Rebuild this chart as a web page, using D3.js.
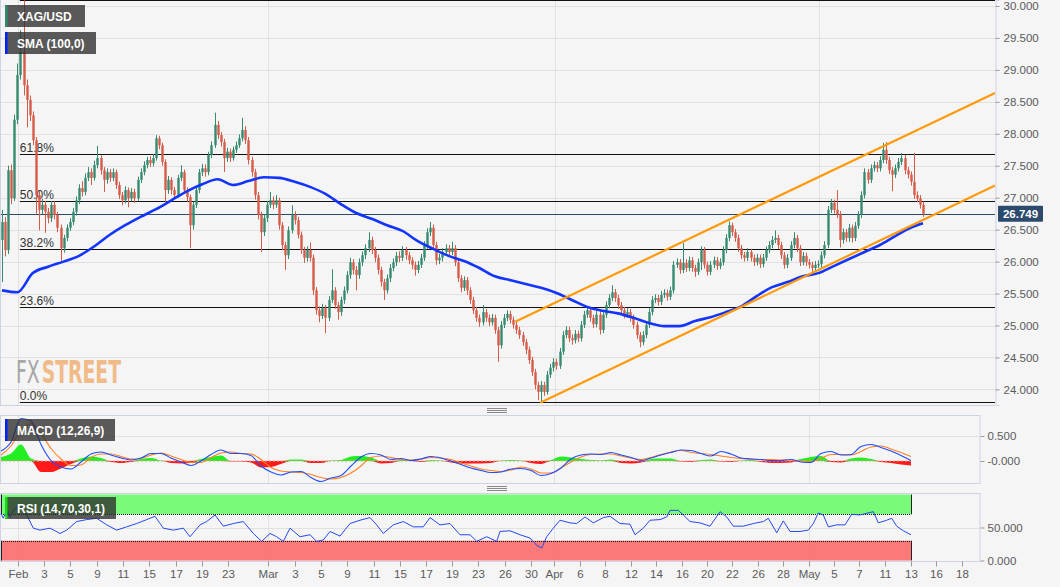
<!DOCTYPE html>
<html><head><meta charset="utf-8">
<script src="https://cdn.jsdelivr.net/npm/d3@7"></script>
<style>
html,body{margin:0;padding:0;background:#f5f5f5;}
svg{display:block;font-family:"Liberation Sans",Arial,sans-serif;}
</style></head><body>
<svg id="c" width="1060" height="587"></svg>
<script>
// ---------------- DATA ----------------
const firstOpen = 26.34;
const closes = [
26.62,26.18,27.43,26.99,28.22,28.92,29.28,28.76,28.53,28.29,
27.90,27.04,26.81,26.89,26.78,26.68,26.89,26.73,26.53,26.21,
26.37,26.53,26.62,26.78,26.96,27.15,27.09,27.31,27.40,27.31,
27.51,27.62,27.43,27.28,27.40,27.31,27.40,27.20,27.04,26.96,
27.12,26.99,27.09,26.99,27.28,27.40,27.51,27.59,27.54,27.62,
27.93,27.82,27.56,27.12,27.28,27.12,27.04,27.31,27.40,27.12,
27.01,26.57,26.89,27.12,27.40,27.46,27.40,27.67,27.82,28.14,
27.98,27.87,27.62,27.72,27.62,27.75,27.82,27.93,28.06,27.90,
27.59,27.40,27.04,26.73,26.46,26.68,26.89,26.96,26.89,26.96,
26.57,26.26,26.10,26.49,26.73,26.65,26.42,26.18,26.06,26.18,
26.06,25.55,25.24,25.15,25.27,25.12,25.40,25.55,25.32,25.21,
25.40,25.55,25.79,25.99,25.87,25.79,25.99,26.10,26.21,26.34,
26.18,26.06,25.87,25.68,25.55,25.74,25.90,25.99,26.09,26.06,
26.18,26.10,26.02,25.95,25.87,25.95,26.06,26.26,26.46,26.53,
26.26,26.02,26.06,26.15,26.21,26.15,26.21,25.99,25.74,25.59,
25.71,25.55,25.40,25.24,25.12,25.05,25.21,25.12,25.05,25.12,
24.93,24.69,25.01,25.12,25.18,25.09,25.01,24.93,24.85,24.74,
24.62,24.46,24.27,24.07,23.96,24.07,23.96,24.23,24.34,24.43,
24.37,24.59,24.85,24.93,24.80,24.77,24.87,24.80,25.01,25.17,
25.24,25.12,25.02,25.17,24.93,25.17,25.32,25.43,25.52,25.43,
25.32,25.24,25.17,25.21,25.12,25.01,24.85,24.74,24.85,25.01,
25.21,25.40,25.43,25.37,25.48,25.51,25.45,25.55,25.95,25.99,
25.87,25.98,25.90,26.02,25.90,25.84,25.99,26.18,25.95,25.84,
25.95,26.02,25.93,25.99,26.18,26.37,26.57,26.46,26.37,26.21,
26.10,26.06,26.15,26.06,25.99,26.06,25.96,26.06,26.18,26.26,
26.34,26.37,26.26,26.10,25.95,26.06,26.26,26.37,26.21,25.99,
26.09,25.99,25.95,25.90,25.95,25.96,26.10,26.26,26.81,26.92,
26.81,26.74,26.34,26.46,26.37,26.53,26.37,26.56,26.73,27.04,
27.40,27.28,27.46,27.51,27.46,27.59,27.75,27.59,27.43,27.36,
27.46,27.56,27.62,27.43,27.36,27.25,27.04,26.99,26.89,26.749];
const highs = [
26.81,26.70,27.50,27.52,28.30,29.10,29.62,30.09,28.85,28.60,
28.35,27.95,27.10,26.98,26.95,26.84,26.95,26.94,26.78,26.58,
26.42,26.58,26.68,26.84,27.02,27.21,27.26,27.38,27.48,27.46,
27.58,27.81,27.66,27.48,27.46,27.45,27.46,27.44,27.25,27.09,
27.18,27.16,27.15,27.14,27.33,27.46,27.57,27.64,27.65,27.68,
27.98,27.97,27.86,27.60,27.34,27.32,27.17,27.36,27.51,27.44,
27.16,27.05,26.94,27.18,27.45,27.53,27.52,27.72,27.88,28.33,
28.20,28.03,27.92,27.78,27.77,27.80,27.88,27.99,28.25,28.12,
27.95,27.64,27.45,27.09,26.78,26.74,26.95,27.09,27.02,27.04,
27.00,26.62,26.31,26.55,26.88,26.79,26.70,26.47,26.23,26.24,
26.30,26.11,25.60,25.30,25.34,25.32,25.46,25.88,25.60,25.37,
25.45,25.61,25.85,26.06,26.04,25.93,26.05,26.16,26.27,26.46,
26.39,26.23,26.11,25.92,25.73,25.80,25.96,26.05,26.15,26.16,
26.24,26.23,26.15,26.07,26.00,26.01,26.12,26.32,26.52,26.62,
26.58,26.31,26.12,26.21,26.27,26.26,26.31,26.26,26.04,25.79,
25.77,25.76,25.60,25.45,25.29,25.17,25.32,25.26,25.17,25.18,
25.17,24.98,25.07,25.18,25.24,25.23,25.14,25.06,24.98,24.90,
24.79,24.67,24.51,24.32,24.12,24.13,24.12,24.29,24.40,24.49,
24.48,24.65,24.91,24.99,24.98,24.86,24.93,24.92,25.07,25.23,
25.30,25.29,25.17,25.23,25.22,25.23,25.38,25.49,25.63,25.57,
25.48,25.37,25.29,25.27,25.26,25.17,25.06,24.90,24.91,25.07,
25.27,25.46,25.49,25.48,25.54,25.57,25.56,25.61,26.01,26.05,
26.04,26.29,26.04,26.08,26.07,25.95,26.05,26.24,26.23,26.00,
26.01,26.08,26.07,26.05,26.24,26.43,26.63,26.61,26.51,26.42,
26.26,26.15,26.21,26.20,26.11,26.12,26.11,26.12,26.24,26.32,
26.40,26.49,26.42,26.31,26.15,26.12,26.32,26.46,26.42,26.26,
26.15,26.14,26.04,26.00,26.01,26.02,26.16,26.32,26.87,26.98,
26.97,27.12,26.79,26.52,26.51,26.59,26.58,26.62,26.79,27.10,
27.46,27.45,27.52,27.57,27.56,27.65,27.86,27.87,27.64,27.48,
27.52,27.62,27.70,27.67,27.48,27.41,27.70,27.10,27.04,26.94];
const lows = [
25.68,26.08,26.12,26.90,26.95,28.15,28.85,28.60,28.10,28.20,
27.82,26.75,26.49,26.74,26.45,26.60,26.62,26.66,26.46,26.00,
26.14,26.32,26.48,26.57,26.72,26.90,27.02,27.04,27.26,27.20,
27.27,27.46,27.36,27.09,27.22,27.25,27.26,27.14,26.98,26.88,
26.91,26.85,26.94,26.92,26.95,27.23,27.35,27.46,27.48,27.49,
27.58,27.76,27.50,26.93,27.06,27.05,26.98,27.00,27.26,27.06,
26.94,26.21,26.50,26.84,27.07,27.34,27.33,27.35,27.62,27.78,
27.92,27.80,27.40,27.56,27.56,27.58,27.70,27.78,27.88,27.84,
27.52,27.33,26.97,26.66,26.15,26.40,26.62,26.84,26.82,26.84,
26.50,26.18,25.87,26.04,26.44,26.58,26.36,26.12,25.98,26.00,
26.00,25.48,25.17,25.05,25.10,24.88,25.07,25.35,25.26,25.09,
25.15,25.34,25.50,25.73,25.80,25.55,25.73,25.93,26.04,26.15,
26.12,25.99,25.80,25.61,25.40,25.50,25.68,25.85,25.93,25.99,
26.01,26.03,25.96,25.88,25.78,25.82,25.90,26.01,26.20,26.40,
26.20,25.95,25.96,26.00,26.10,26.09,26.10,25.93,25.68,25.52,
25.54,25.48,25.34,25.18,25.06,24.98,25.00,25.06,24.99,25.00,
24.87,24.43,24.64,24.96,25.07,25.03,24.95,24.87,24.79,24.68,
24.55,24.40,24.21,24.00,23.83,23.80,23.90,23.92,24.18,24.28,
24.31,24.32,24.54,24.80,24.74,24.70,24.72,24.74,24.75,24.96,
25.12,25.06,24.96,24.97,24.86,24.88,25.12,25.27,25.38,25.37,
25.26,25.18,25.11,25.12,25.06,24.95,24.79,24.66,24.69,24.80,
24.96,25.16,25.35,25.31,25.32,25.43,25.39,25.40,25.50,25.90,
25.81,25.82,25.84,25.85,25.84,25.76,25.79,25.87,25.89,25.78,
25.79,25.90,25.87,25.88,25.94,26.13,26.32,26.40,26.31,26.15,
26.04,26.00,26.01,26.00,25.93,25.94,25.90,25.91,26.01,26.13,
26.21,26.29,26.20,26.04,25.89,25.90,26.01,26.21,26.15,25.93,
25.94,25.93,25.89,25.84,25.85,25.90,25.91,26.05,26.21,26.76,
26.75,26.68,26.22,26.28,26.31,26.31,26.30,26.32,26.51,26.68,
26.99,27.22,27.23,27.41,27.40,27.41,27.54,27.53,27.37,27.10,
27.31,27.41,27.51,27.37,27.30,27.19,26.98,26.93,26.83,26.70];

// SMA(100): [candle index, value]
const sma = [[0,25.55],[5,25.52],[10,25.82],[15,25.92],[20,26.00],[25,26.09],[30,26.24],[35,26.42],
[40,26.57],[45,26.70],[50,26.82],[55,26.96],[60,27.10],[65,27.21],[70,27.29],[75,27.20],[80,27.26],
[85,27.32],[90,27.31],[95,27.25],[100,27.17],[105,27.06],[110,26.90],[115,26.76],[120,26.67],
[125,26.57],[130,26.48],[135,26.32],[140,26.20],[145,26.09],[150,26.01],[155,25.90],[160,25.77],
[165,25.71],[170,25.65],[175,25.59],[180,25.51],[185,25.40],[190,25.29],[195,25.23],[200,25.19],
[205,25.12],[210,25.04],[215,24.99],[220,24.99],[225,25.07],[230,25.13],[235,25.21],[240,25.30],
[245,25.46],[250,25.60],[255,25.68],[260,25.77],[265,25.82],[270,25.93],[275,26.04],[280,26.15],
[285,26.26],[290,26.40],[295,26.53],[299,26.60]];

const channelUpper = [[166.6,25.06],[322.4,28.64]];
const channelLower = [[174.7,23.79],[322.4,27.19]];

const fibLow = 23.80, fibHigh = 30.09;
const fibLevels = [0, 23.6, 38.2, 50, 61.8, 100];
const fibLabelLevels = [0, 23.6, 38.2, 50, 61.8];
const fibStartIdx = 5.8;
const lastPrice = 26.749;
const priceTicks = [24,24.5,25,25.5,26,26.5,27,27.5,28,28.5,29,29.5,30];
const mainMonthIdx = [5.3, 86.4, 179.5, 265.3];

// Indicators (one value every indicator step)
const macdLine = [0.20,0.38,0.85,0.80,0.33,0.01,-0.12,-0.16,-0.02,0.14,
0.18,0.12,0.06,0.02,0.06,0.15,0.15,0.06,-0.02,-0.09,
0.00,0.13,0.22,0.15,0.15,0.11,-0.10,-0.22,-0.28,-0.22,
-0.21,-0.33,-0.41,-0.34,-0.29,-0.10,0.08,0.15,0.12,0.03,
0.05,0.01,0.04,0.09,0.06,0.00,-0.07,-0.14,-0.19,-0.23,
-0.22,-0.16,-0.15,-0.19,-0.29,-0.25,-0.14,0.04,0.12,0.14,
0.13,0.17,0.12,0.07,0.01,0.06,0.12,0.17,0.22,0.21,
0.15,0.10,0.19,0.14,0.06,0.04,0.03,0.01,0.01,0.03,
-0.02,-0.03,0.15,0.19,0.12,0.13,0.29,0.33,0.27,0.20,
0.11,0.01];
const signalLine = [0.12,0.30,0.62,0.75,0.55,0.25,0.04,-0.09,-0.08,0.07,
0.14,0.14,0.09,0.04,0.05,0.12,0.16,0.10,0.03,-0.03,
-0.03,0.07,0.16,0.18,0.15,0.14,0.03,-0.13,-0.20,-0.22,
-0.23,-0.27,-0.33,-0.36,-0.33,-0.24,-0.10,0.07,0.10,0.07,
0.03,0.02,0.04,0.07,0.06,0.03,-0.04,-0.10,-0.16,-0.19,
-0.21,-0.18,-0.12,-0.16,-0.24,-0.24,-0.14,-0.02,0.08,0.13,
0.14,0.14,0.10,0.06,0.03,0.07,0.13,0.18,0.21,0.17,
0.15,0.13,0.10,0.07,0.05,0.04,0.03,0.03,0.02,0.02,
0.00,-0.01,0.05,0.13,0.13,0.12,0.19,0.28,0.30,0.24,
0.17,0.09];
const histogram = [0.08,0.15,0.33,0.05,-0.22,-0.22,-0.15,-0.06,0.05,0.09,
0.06,-0.02,-0.04,-0.02,0.04,0.06,0.01,-0.04,-0.05,-0.04,
0.04,0.08,0.11,-0.01,-0.01,-0.03,-0.13,-0.12,-0.06,0.03,
0.03,-0.04,-0.04,0.01,0.02,0.09,0.10,0.07,-0.05,-0.04,
0.02,0.02,-0.02,0.02,0.01,-0.03,-0.05,-0.05,-0.05,-0.04,
0.01,0.02,0.01,-0.04,-0.06,0.02,0.09,0.07,0.04,0.02,
0.01,0.03,-0.04,-0.05,-0.03,0.04,0.05,0.05,-0.01,-0.02,
0.02,0.03,-0.01,-0.02,0.01,0.02,-0.02,-0.04,-0.04,-0.03,
0.04,0.08,0.10,-0.02,-0.03,0.05,0.07,0.04,-0.02,-0.04,
-0.07,-0.09];
// RSI: [indicator index, value]
const rsi = [[0,71],[0.23,64],[0.57,76],[0.9,66],[1.4,79],[1.9,82],[2.57,69],[3.23,49],[3.9,46],[4.9,49],
[5.9,41],[6.57,46],[7.57,59],[8.57,62],[9.57,64],[10.57,54],[11.57,46],[12.57,51],[13.57,56],[14.57,62],
[15.4,67],[16.23,49],[17.23,46],[18.23,49],[18.9,36],[19.9,54],[20.57,59],[21.4,69],[22.23,52],[23.23,56],
[24.23,59],[25.23,41],[26.07,29],[26.9,41],[27.57,36],[28.23,29],[28.9,49],[29.9,36],[30.9,39],[31.57,29],
[32.23,31],[32.9,44],[33.9,37],[34.9,56],[35.9,61],[36.9,65],[37.57,54],[38.23,41],[39.23,54],[40.23,59],
[41.23,51],[42.23,51],[42.9,65],[43.9,54],[44.9,56],[45.9,39],[46.9,39],[47.57,29],[48.57,36],[49.57,29],
[49.9,44],[50.9,45],[51.9,39],[52.9,34],[53.57,23],[54.07,19],[54.57,36],[55.23,49],[55.9,61],[56.9,57],
[57.57,56],[58.4,66],[59.23,57],[60.23,65],[60.9,67],[61.9,56],[62.9,55],[63.4,39],[64.23,49],[64.9,61],
[65.9,62],[66.57,66],[66.9,76],[67.73,76],[68.23,69],[68.9,59],[69.9,57],[70.9,52],[71.9,74],[72.57,66],
[73.23,52],[74.23,52],[75.23,56],[76.23,59],[76.73,64],[77.57,42],[78.23,60],[78.9,44],[79.9,44],[80.73,46],
[81.23,56],[81.73,72],[82.23,69],[82.73,51],[83.57,54],[84.4,54],[85.07,70],[85.9,69],[87.23,74],[87.73,57],
[88.57,61],[89.07,64],[89.57,52],[90.23,45],[91,39]];
const macdTicks = [0.5, 0];
const rsiTicks = [50, 0];
const rsiBands = {overbought:70, oversold:30, top:100, bottom:0};
const timeLabels = ["Feb","3","5","9","11","15","17","19","23","Mar","3","5","9","11","15","17","19","23","26","30",
"Apr","6","8","12","14","16","20","22","26","28","May","5","7","11","13","16","18"];
const timePos = [1.7,4.3,6.9,9.6,12.2,14.8,17.5,20.1,22.7,26.7,29.4,32.0,34.6,37.3,39.9,42.5,45.1,47.7,50.4,53.0,
55.3,57.9,60.4,63.0,65.5,68.1,70.6,73.1,75.7,78.2,80.8,83.3,85.8,88.4,91.0,93.5,96.1];
const monthNames = ["Feb","Mar","Apr","May"];

// ---------------- LAYOUT / SCALES ----------------
const svg = d3.select("#c");
const BG = "#f5f5f5", GRID = "#e1e1e1", BORDER = "#cdd3e3", AX = "#5a5a5a";
const main = {x0:0, x1:995, y0:0, y1:405};
const pm = {x0:0, x1:980, y0:415, y1:483};
const pr = {x0:0, x1:980, y0:493, y1:561};

const xMain = d3.scaleLinear().domain([0, closes.length-1]).range([2, 923]);
const yMain = d3.scaleLinear().domain([23.756, 30.094]).range([main.y1, main.y0]);
const xInd = d3.scaleLinear().domain([0, macdLine.length-1]).range([1, 911]);
const yMacd = d3.scaleLinear().domain([-0.44, 0.92]).range([pm.y1, pm.y0]);
const yRsi = d3.scaleLinear().domain([0, 100]).range([560.5, 494.5]);

svg.append("rect").attr("width",1060).attr("height",587).attr("fill",BG);

const defs = svg.append("defs");
defs.append("clipPath").attr("id","cm").append("rect").attr("x",main.x0).attr("y",main.y0).attr("width",main.x1-main.x0).attr("height",main.y1-main.y0);

// ---------------- MAIN PANEL ----------------
const gm = svg.append("g").attr("clip-path","url(#cm)");
gm.selectAll(".hg").data(priceTicks).join("line")
  .attr("x1",main.x0).attr("x2",main.x1)
  .attr("y1",d=>Math.round(yMain(d))+0.5).attr("y2",d=>Math.round(yMain(d))+0.5)
  .attr("stroke",GRID).attr("stroke-width",1);
gm.selectAll(".vg").data(mainMonthIdx).join("line")
  .attr("x1",d=>Math.round(xMain(d))+0.5).attr("x2",d=>Math.round(xMain(d))+0.5)
  .attr("y1",main.y0).attr("y2",main.y1).attr("stroke",GRID);

// fib lines
const fibPrice = f => fibLow + (fibHigh-fibLow)*f/100;
gm.selectAll(".fib").data(fibLevels).join("line")
  .attr("x1",xMain(fibStartIdx)).attr("x2",main.x1)
  .attr("y1",d=>Math.round(yMain(fibPrice(d)))+0.5).attr("y2",d=>Math.round(yMain(fibPrice(d)))+0.5)
  .attr("stroke","#111").attr("stroke-width",1.1);
gm.selectAll(".fibt").data(fibLabelLevels).join("text")
  .attr("x",xMain(fibStartIdx)).attr("y",d=>Math.round(yMain(fibPrice(d)))-2)
  .attr("font-size",12).attr("fill","#333").text(d=>d.toFixed(1)+"%");

// last price line
gm.append("line").attr("x1",main.x0).attr("x2",main.x1)
  .attr("y1",Math.round(yMain(lastPrice))+0.5).attr("y2",Math.round(yMain(lastPrice))+0.5)
  .attr("stroke","#2c4a6e").attr("stroke-width",1);

// candles
const candles = closes.map((c,i)=>({i, o: i===0?firstOpen:closes[i-1], c, h:highs[i], l:lows[i]}));
const UP = "#358a6f", DN = "#d65c49";
const cg = gm.append("g");
cg.selectAll(".wk").data(candles).join("line")
  .attr("x1",d=>Math.round(xMain(d.i))+0.5).attr("x2",d=>Math.round(xMain(d.i))+0.5)
  .attr("y1",d=>yMain(d.h)).attr("y2",d=>yMain(d.l))
  .attr("stroke",d=>d.c>=d.o?UP:DN).attr("stroke-width",1);
cg.selectAll(".bd").data(candles).join("rect")
  .attr("x",d=>Math.round(xMain(d.i))-0.7).attr("width",2.4)
  .attr("y",d=>yMain(Math.max(d.o,d.c)))
  .attr("height",d=>Math.max(1,Math.abs(yMain(d.o)-yMain(d.c))))
  .attr("fill",d=>d.c>=d.o?UP:DN);

// SMA
gm.append("path").datum(sma)
  .attr("d",d3.line().x(d=>xMain(d[0])).y(d=>yMain(d[1])).curve(d3.curveMonotoneX))
  .attr("fill","none").attr("stroke","#1334ff").attr("stroke-width",2.6);

// channel
[channelUpper, channelLower].forEach(ch=>{
  gm.append("path").datum(ch)
    .attr("d",d3.line().x(d=>xMain(d[0])).y(d=>yMain(d[1])))
    .attr("stroke","#ff9a0a").attr("stroke-width",2.2).attr("fill","none");
});

// logo (one text, two coloured parts)
const logo = svg.append("text").attr("x",16).attr("y",382.5).attr("font-size",32)
  .attr("font-family","'DejaVu Sans Condensed','Liberation Sans Narrow','Liberation Sans',sans-serif")
  .attr("textLength",105).attr("lengthAdjust","spacingAndGlyphs").attr("opacity",0.85);
logo.append("tspan").attr("fill","#999").text("FX");
logo.append("tspan").attr("dx",3).attr("fill","#f1b277").attr("font-weight","bold").text("STREET");

// main border
svg.append("line").attr("x1",0.5).attr("x2",0.5).attr("y1",0).attr("y2",main.y1).attr("stroke",BORDER);
svg.append("line").attr("x1",0).attr("x2",main.x1).attr("y1",main.y1+0.5).attr("y2",main.y1+0.5).attr("stroke",BORDER);

// right axis main
const axM = svg.append("g").attr("transform",`translate(${main.x1+0.5},0)`)
  .call(d3.axisRight(yMain).tickValues(priceTicks).tickFormat(d3.format(".3f")).tickSize(4).tickPadding(4));
function styleAxis(g){
  g.select(".domain").attr("stroke",BORDER);
  g.selectAll(".tick line").attr("stroke","#999");
  g.selectAll("text").attr("fill",AX).attr("font-size",11.5).attr("font-family","'Liberation Sans',Arial,sans-serif");
}
styleAxis(axM);

// last price tag
const ty = yMain(lastPrice);
svg.append("rect").attr("x",998).attr("y",ty-8).attr("width",45).attr("height",16).attr("rx",1).attr("fill","#2c4a6e");
svg.append("text").attr("x",1020.5).attr("y",ty+4).attr("text-anchor","middle").attr("font-size",11.5)
  .attr("font-weight","bold").attr("fill","#fff").text(lastPrice.toFixed(3));

// legend boxes
function tag(x,y,w,label,strip){
  svg.append("rect").attr("x",x).attr("y",y).attr("width",w).attr("height",22).attr("fill","rgba(45,45,45,0.78)");
  svg.append("rect").attr("x",x).attr("y",y).attr("width",2.5).attr("height",22).attr("fill",strip);
  svg.append("text").attr("x",x+12).attr("y",y+15.5).attr("font-size",12).attr("font-weight","bold").attr("fill","#fff").text(label);
}
tag(5,5,80,"XAG/USD","#2e8b6e");
tag(5,32,91,"SMA (100,0)","#0022ff");

// drag handles
[408.5, 486.5].forEach(y0=>{
  [0,2,4].forEach(k=>svg.append("line").attr("x1",487).attr("x2",507).attr("y1",y0+k).attr("y2",y0+k).attr("stroke","#8a8a8a").attr("stroke-width",1));
});

// ---------------- MACD PANEL ----------------
const gi = svg.append("g");
gi.append("rect").attr("x",0.5).attr("y",pm.y0+0.5).attr("width",pm.x1-0.5).attr("height",pm.y1-pm.y0).attr("fill",BG).attr("stroke",BORDER);
gi.append("line").attr("x1",0).attr("x2",pm.x1).attr("y1",Math.round(yMacd(0.5))+0.5).attr("y2",Math.round(yMacd(0.5))+0.5).attr("stroke",GRID);
const monthPos = timePos.filter((p,i)=>monthNames.includes(timeLabels[i]));
gi.selectAll(".mvg").data(monthPos).join("line")
  .attr("x1",d=>Math.round(xInd(d))+0.5).attr("x2",d=>Math.round(xInd(d))+0.5)
  .attr("y1",pm.y0+1).attr("y2",pm.y1).attr("stroke",GRID);
gi.append("path").datum(histogram)
  .attr("d",d3.area().x((d,i)=>xInd(i)).y0(yMacd(0)).y1(d=>yMacd(Math.max(0,d))).curve(d3.curveMonotoneX))
  .attr("fill","#22ee22");
gi.append("path").datum(histogram)
  .attr("d",d3.area().x((d,i)=>xInd(i)).y0(yMacd(0)).y1(d=>yMacd(Math.min(0,d))).curve(d3.curveMonotoneX))
  .attr("fill","#ff1a1a");
gi.append("line").attr("x1",xInd(0)).attr("x2",xInd(macdLine.length-1)).attr("y1",yMacd(0)).attr("y2",yMacd(0))
  .attr("stroke","#ff9a9a").attr("stroke-width",1).attr("stroke-dasharray","2,2");
gi.append("path").datum(signalLine)
  .attr("d",d3.line().x((d,i)=>xInd(i)).y(d=>yMacd(d)).curve(d3.curveMonotoneX))
  .attr("fill","none").attr("stroke","#ff8020").attr("stroke-width",1.1);
gi.append("path").datum(macdLine)
  .attr("d",d3.line().x((d,i)=>xInd(i)).y(d=>yMacd(d)).curve(d3.curveMonotoneX))
  .attr("fill","none").attr("stroke","#1f4cff").attr("stroke-width",1.1);
const axMacd = svg.append("g").attr("transform",`translate(${pm.x1+0.5},0)`)
  .call(d3.axisRight(yMacd).tickValues(macdTicks).tickFormat(d=>d===0?"-0.000":d3.format(".3f")(d)).tickSize(4).tickPadding(3));
styleAxis(axMacd);
axMacd.select(".domain").remove();
tag(5,419,110,"MACD (12,26,9)","#0022ff");

// ---------------- RSI PANEL ----------------
const gr = svg.append("g");
gr.append("rect").attr("x",0.5).attr("y",pr.y0+0.5).attr("width",pr.x1-0.5).attr("height",pr.y1-pr.y0).attr("fill",BG).attr("stroke",BORDER);
gr.append("line").attr("x1",0).attr("x2",pr.x1).attr("y1",Math.round(yRsi(50))+0.5).attr("y2",Math.round(yRsi(50))+0.5).attr("stroke",GRID);
gr.selectAll(".mvg").data(monthPos).join("line")
  .attr("x1",d=>Math.round(xInd(d))+0.5).attr("x2",d=>Math.round(xInd(d))+0.5)
  .attr("y1",pr.y0+1).attr("y2",pr.y1).attr("stroke",GRID);
const bx0 = xInd(0), bx1 = xInd(macdLine.length-1);
gr.append("rect").attr("x",bx0).attr("y",yRsi(rsiBands.top)).attr("width",bx1-bx0)
  .attr("height",yRsi(rsiBands.overbought)-yRsi(rsiBands.top)).attr("fill","rgba(110,250,110,0.92)");
gr.append("rect").attr("x",bx0).attr("y",yRsi(rsiBands.oversold)).attr("width",bx1-bx0)
  .attr("height",yRsi(rsiBands.bottom)-yRsi(rsiBands.oversold)).attr("fill","rgba(250,110,110,0.92)");
[rsiBands.overbought, rsiBands.oversold].forEach(v=>{
  gr.append("line").attr("x1",bx0).attr("x2",bx1).attr("y1",Math.round(yRsi(v))+0.5).attr("y2",Math.round(yRsi(v))+0.5)
    .attr("stroke","#111").attr("stroke-dasharray","1,1");
});
[bx0, bx1].forEach(x=>{
  gr.append("line").attr("x1",Math.round(x)+0.5).attr("x2",Math.round(x)+0.5).attr("y1",yRsi(rsiBands.top)).attr("y2",yRsi(rsiBands.overbought))
    .attr("stroke","#222");
  gr.append("line").attr("x1",Math.round(x)+0.5).attr("x2",Math.round(x)+0.5).attr("y1",yRsi(rsiBands.oversold)).attr("y2",yRsi(rsiBands.bottom))
    .attr("stroke","#222");
});
gr.append("path").datum(rsi)
  .attr("d",d3.line().x(d=>xInd(d[0])).y(d=>yRsi(d[1])))
  .attr("fill","none").attr("stroke","#2448ee").attr("stroke-width",1);
const axRsi = svg.append("g").attr("transform",`translate(${pr.x1+0.5},0)`)
  .call(d3.axisRight(yRsi).tickValues(rsiTicks).tickFormat(d3.format(".3f")).tickSize(4).tickPadding(3));
styleAxis(axRsi);
axRsi.select(".domain").remove();
tag(5,497,111,"RSI (14,70,30,1)","#11dd11");

// ---------------- TIME AXIS ----------------
const axT = svg.append("g").attr("transform",`translate(0,${pr.y1+0.5})`)
  .call(d3.axisBottom(xInd).tickValues(timePos).tickFormat((d,i)=>timeLabels[i]).tickSize(5).tickPadding(3));
styleAxis(axT);
axT.select(".domain").remove();
</script>
</body></html>
